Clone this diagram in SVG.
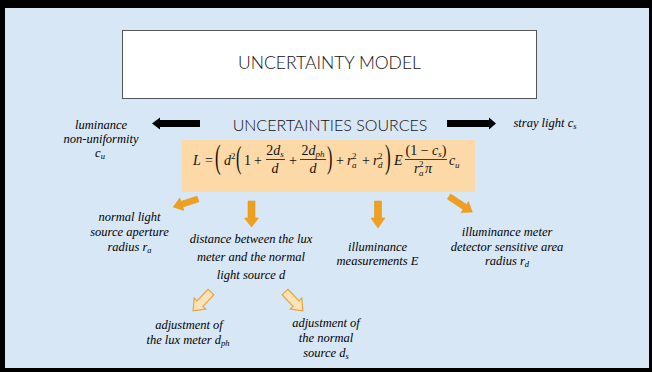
<svg xmlns="http://www.w3.org/2000/svg" width="652" height="372" viewBox="0 0 652 372">
<style>
.ann{font-family:"Liberation Serif","Times New Roman",serif;font-style:italic;font-size:12.5px;fill:#000;text-anchor:middle}
.sub{font-size:8.5px}
.m{font-family:"Liberation Serif","Times New Roman",serif;font-size:14px;fill:#111}
.mi{font-family:"Liberation Serif","Times New Roman",serif;font-style:italic;font-size:14px;fill:#111}
.ms{font-family:"Liberation Serif","Times New Roman",serif;font-size:9px;fill:#111}
.msi{font-family:"Liberation Serif","Times New Roman",serif;font-style:italic;font-size:9px;fill:#111}
.big{font-family:"Liberation Serif","Times New Roman",serif;font-size:18px;fill:#111}
.head{font-family:"Lato","Open Sans",sans-serif;font-weight:300;fill:#111}
.oa{fill:#f0a020;stroke:#e09010;stroke-width:0.5}
.ha{fill:#fde3b8;stroke:#e8a43c;stroke-width:1.2}
</style>
<rect x="0" y="0" width="652" height="372" fill="#000"/>
<rect x="5" y="8" width="644" height="360" fill="#d8e7f6"/>

<g id="title">
<rect x="122.5" y="30.5" width="414" height="68" fill="#fff" stroke="#555" stroke-width="1"/>
<text class="head" x="329.5" y="69" font-size="17.5" text-anchor="middle">UNCERTAINTY MODEL</text>
</g>

<g id="sources">
<text class="head" x="330" y="131" font-size="16" text-anchor="middle">UNCERTAINTIES SOURCES</text>
</g>

<g id="formula">
<rect x="182" y="140" width="293" height="52" fill="#fcd9a6"/>
<text class="mi" x="193" y="165">L</text>
<text class="m" x="205" y="165">=</text>
<text class="big" transform="translate(215,168) scale(0.95,1.9)">(</text>
<text class="mi" x="224" y="165">d</text>
<text class="ms" x="231" y="159">2</text>
<text class="big" transform="translate(236,168) scale(0.9,1.7)">(</text>
<text class="m" x="244" y="165">1</text>
<text class="m" x="254" y="165">+</text>
<text class="m" x="275" y="155" text-anchor="middle">2<tspan class="mi">d</tspan><tspan class="msi" dy="2">s</tspan></text>
<line x1="266" y1="159.5" x2="285" y2="159.5" stroke="#111" stroke-width="0.8"/>
<text class="mi" x="275" y="173" text-anchor="middle">d</text>
<text class="m" x="289" y="165">+</text>
<text class="m" x="313" y="155" text-anchor="middle">2<tspan class="mi">d</tspan><tspan class="msi" dy="2">ph</tspan></text>
<line x1="300" y1="159.5" x2="326" y2="159.5" stroke="#111" stroke-width="0.8"/>
<text class="mi" x="313" y="173" text-anchor="middle">d</text>
<text class="big" transform="translate(327,168) scale(0.9,1.7)">)</text>
<text class="m" x="336" y="165">+</text>
<text class="mi" x="347" y="165">r</text>
<text class="ms" x="352" y="159">2</text>
<text class="msi" x="352" y="168">a</text>
<text class="m" x="362" y="165">+</text>
<text class="mi" x="373" y="165">r</text>
<text class="ms" x="378" y="159">2</text>
<text class="msi" x="378" y="168">d</text>
<text class="big" transform="translate(385,168) scale(0.95,1.9)">)</text>
<text class="mi" x="394" y="165">E</text>
<text class="m" x="426" y="155" text-anchor="middle">(1 − <tspan class="mi">c</tspan><tspan class="msi" dy="2">s</tspan><tspan dy="-2">)</tspan></text>
<line x1="405" y1="159.5" x2="447" y2="159.5" stroke="#111" stroke-width="0.8"/>
<text class="mi" x="414" y="173">r</text>
<text class="ms" x="419" y="167">2</text>
<text class="msi" x="419" y="176">a</text>
<text class="mi" x="425" y="173">π</text>
<text class="mi" x="449" y="165">c</text>
<text class="msi" x="455" y="168">u</text>
</g>

<g id="cu">
<text class="ann" x="101" y="129">luminance</text>
<text class="ann" x="101" y="143">non-uniformity</text>
<text class="ann" x="100" y="157">c<tspan class="sub" dy="2">u</tspan></text>
</g>
<g id="cs">
<text class="ann" x="545" y="127">stray light c<tspan class="sub" dy="2">s</tspan></text>
</g>
<g id="ra">
<text class="ann" x="129.5" y="221">normal light</text>
<text class="ann" x="129.5" y="236">source aperture</text>
<text class="ann" x="129.5" y="251">radius r<tspan class="sub" dy="2">a</tspan></text>
</g>
<g id="d">
<text class="ann" x="251" y="243">distance between the lux</text>
<text class="ann" x="251" y="261">meter and the normal</text>
<text class="ann" x="251" y="279">light source d</text>
</g>
<g id="E">
<text class="ann" x="377.5" y="251">illuminance</text>
<text class="ann" x="377.5" y="265">measurements E</text>
</g>
<g id="rd">
<text class="ann" x="507" y="236">illuminance meter</text>
<text class="ann" x="507" y="251">detector sensitive area</text>
<text class="ann" x="507" y="265">radius r<tspan class="sub" dy="2">d</tspan></text>
</g>
<g id="dph">
<text class="ann" x="189" y="329">adjustment of</text>
<text class="ann" x="188" y="344">the lux meter d<tspan class="sub" dy="2">ph</tspan></text>
</g>
<g id="ds">
<text class="ann" x="326" y="327">adjustment of</text>
<text class="ann" x="326" y="342">the normal</text>
<text class="ann" x="326" y="357">source d<tspan class="sub" dy="2">s</tspan></text>
</g>

<g id="connectors">
<polygon fill="#000" points="200,120 160,120 160,117.5 152,123.5 160,129.5 160,127 200,127"/>
<polygon fill="#000" points="447,120 489,120 489,117.5 496,123.5 489,129.5 489,127 447,127"/>
<polygon class="oa" transform="translate(198,199) rotate(162)" points="0,-3 17,-3 17,-6.5 26,0 17,6.5 17,3 0,3"/>
<polygon class="oa" transform="translate(251.5,201) rotate(90)" points="0,-3.5 17,-3.5 17,-7 26,0 17,7 17,3.5 0,3.5"/>
<polygon class="oa" transform="translate(378,201) rotate(90)" points="0,-3.5 17,-3.5 17,-7 27,0 17,7 17,3.5 0,3.5"/>
<polygon class="oa" transform="translate(449,196.5) rotate(33.7)" points="0,-3 19,-3 19,-6.5 28,0 19,6.5 19,3 0,3"/>
<polygon class="ha" transform="translate(211,292) rotate(133.5)" points="0,-4 16,-4 16,-8 26,0 16,8 16,4 0,4"/>
<polygon class="ha" transform="translate(285,292) rotate(46.5)" points="0,-4 16,-4 16,-8 26,0 16,8 16,4 0,4"/>
</g>
</svg>
